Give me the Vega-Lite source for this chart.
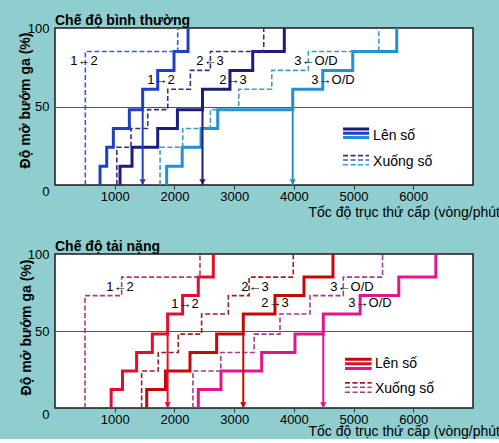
{
 "$schema": "https://vega.github.io/schema/vega-lite/v6.json",
 "background": "#8fcdce",
 "padding": {"left": 17, "top": 13, "right": 0, "bottom": 0},
 "spacing": 19,
 "config": {
   "font": "Liberation Sans",
   "view": {"stroke": "#1a1a1a", "strokeWidth": 1.5, "fill": "white"},
   "axis": {"labelFont": "Liberation Sans", "titleFont": "Liberation Sans"},
   "title": {"font": "Liberation Sans"}
 },
 "resolve": {"scale": {"color": "independent", "x": "independent", "y": "independent", "strokeDash": "independent", "strokeWidth": "independent"}},
 "datasets": {
  "topLines": [
   {"s":"U12","k":"up","i":0,"x":754,"y":0},{"s":"U12","k":"up","i":1,"x":866,"y":12},{"s":"U12","k":"up","i":2,"x":977,"y":24},{"s":"U12","k":"up","i":3,"x":1245,"y":36},{"s":"U12","k":"up","i":4,"x":1468,"y":48},{"s":"U12","k":"up","i":5,"x":1720,"y":61},{"s":"U12","k":"up","i":6,"x":1993,"y":73},{"s":"U12","k":"up","i":7,"x":2228,"y":85},{"s":"U12","k":"up","i":8,"x":2228,"y":100},
   {"s":"U23","k":"up","i":0,"x":1089,"y":0},{"s":"U23","k":"up","i":1,"x":1290,"y":12},{"s":"U23","k":"up","i":2,"x":1720,"y":24},{"s":"U23","k":"up","i":3,"x":2050,"y":36},{"s":"U23","k":"up","i":4,"x":2470,"y":48},{"s":"U23","k":"up","i":5,"x":2930,"y":61},{"s":"U23","k":"up","i":6,"x":3311,"y":73},{"s":"U23","k":"up","i":7,"x":3840,"y":85},{"s":"U23","k":"up","i":8,"x":3840,"y":100},
   {"s":"U3O","k":"up","i":0,"x":1870,"y":0},{"s":"U3O","k":"up","i":1,"x":2130,"y":12},{"s":"U3O","k":"up","i":2,"x":2446,"y":24},{"s":"U3O","k":"up","i":3,"x":2725,"y":36},{"s":"U3O","k":"up","i":4,"x":3981,"y":48},{"s":"U3O","k":"up","i":5,"x":4484,"y":61},{"s":"U3O","k":"up","i":6,"x":4986,"y":73},{"s":"U3O","k":"up","i":7,"x":5723,"y":85},{"s":"U3O","k":"up","i":8,"x":5723,"y":100},
   {"s":"D12","k":"down","i":0,"x":508,"y":0},{"s":"D12","k":"down","i":1,"x":2055,"y":85},{"s":"D12","k":"down","i":2,"x":2055,"y":100},
   {"s":"D23","k":"down","i":0,"x":1035,"y":0},{"s":"D23","k":"down","i":1,"x":1273,"y":24},{"s":"D23","k":"down","i":2,"x":1553,"y":36},{"s":"D23","k":"down","i":3,"x":1888,"y":48},{"s":"D23","k":"down","i":4,"x":2267,"y":61},{"s":"D23","k":"down","i":5,"x":2602,"y":73},{"s":"D23","k":"down","i":6,"x":3495,"y":85},{"s":"D23","k":"down","i":7,"x":3495,"y":100},
   {"s":"D3O","k":"down","i":0,"x":1759,"y":0},{"s":"D3O","k":"down","i":1,"x":2139,"y":24},{"s":"D3O","k":"down","i":2,"x":2602,"y":36},{"s":"D3O","k":"down","i":3,"x":3077,"y":48},{"s":"D3O","k":"down","i":4,"x":3630,"y":61},{"s":"D3O","k":"down","i":5,"x":4243,"y":73},{"s":"D3O","k":"down","i":6,"x":5422,"y":85},{"s":"D3O","k":"down","i":7,"x":5422,"y":100}
  ],
  "topArrows": [
   {"s":"U12","x":1468,"y":0,"y2":48},{"s":"U23","x":2470,"y":0,"y2":48},{"s":"U3O","x":3981,"y":0,"y2":48}
  ],
  "topLabels": [
   {"t":"1←2","x":486,"y":79},{"t":"1→2","x":1775,"y":67},{"t":"2←3","x":2596,"y":79},{"t":"2→3","x":2981,"y":67},{"t":"3←O/D","x":4371,"y":79},{"t":"3→O/D","x":4655,"y":67}
  ],
  "topLegLines": [
   {"s":"U23","k":"up","x":4824,"x2":5260,"y":35.7},{"s":"U12","k":"up","x":4824,"x2":5260,"y":32.9},{"s":"U3O","k":"up","x":4824,"x2":5260,"y":30.2},
   {"s":"D23","k":"down","x":4824,"x2":5260,"y":18.7},{"s":"D12","k":"down","x":4824,"x2":5260,"y":15.9},{"s":"D3O","k":"down","x":4824,"x2":5260,"y":12.9}
  ],
  "topLegText": [
   {"t":"Lên số","x":5327,"y":31.4},{"t":"Xuống số","x":5327,"y":14.6}
  ],
  "botLines": [
   {"s":"U12","k":"up","i":0,"x":940,"y":0},{"s":"U12","k":"up","i":1,"x":1130,"y":12},{"s":"U12","k":"up","i":2,"x":1367,"y":24},{"s":"U12","k":"up","i":3,"x":1630,"y":36},{"s":"U12","k":"up","i":4,"x":1886,"y":48},{"s":"U12","k":"up","i":5,"x":2137,"y":61},{"s":"U12","k":"up","i":6,"x":2399,"y":73},{"s":"U12","k":"up","i":7,"x":2651,"y":85},{"s":"U12","k":"up","i":8,"x":2651,"y":100},
   {"s":"U23","k":"up","i":0,"x":1536,"y":0},{"s":"U23","k":"up","i":1,"x":1850,"y":12},{"s":"U23","k":"up","i":2,"x":2261,"y":24},{"s":"U23","k":"up","i":3,"x":2707,"y":36},{"s":"U23","k":"up","i":4,"x":3153,"y":48},{"s":"U23","k":"up","i":5,"x":3684,"y":61},{"s":"U23","k":"up","i":6,"x":4170,"y":73},{"s":"U23","k":"up","i":7,"x":4655,"y":85},{"s":"U23","k":"up","i":8,"x":4655,"y":100},
   {"s":"U3O","k":"up","i":0,"x":2400,"y":0},{"s":"U3O","k":"up","i":1,"x":2780,"y":12},{"s":"U3O","k":"up","i":2,"x":3461,"y":24},{"s":"U3O","k":"up","i":3,"x":4019,"y":36},{"s":"U3O","k":"up","i":4,"x":4493,"y":48},{"s":"U3O","k":"up","i":5,"x":5110,"y":61},{"s":"U3O","k":"up","i":6,"x":5757,"y":73},{"s":"U3O","k":"up","i":7,"x":6378,"y":85},{"s":"U3O","k":"up","i":8,"x":6378,"y":100},
   {"s":"D12","k":"down","i":0,"x":502,"y":0},{"s":"D12","k":"down","i":1,"x":1116,"y":73},{"s":"D12","k":"down","i":2,"x":2428,"y":85},{"s":"D12","k":"down","i":3,"x":2428,"y":100},
   {"s":"D23","k":"down","i":0,"x":1451,"y":0},{"s":"D23","k":"down","i":1,"x":1729,"y":24},{"s":"D23","k":"down","i":2,"x":2064,"y":36},{"s":"D23","k":"down","i":3,"x":2455,"y":48},{"s":"D23","k":"down","i":4,"x":2903,"y":61},{"s":"D23","k":"down","i":5,"x":3250,"y":73},{"s":"D23","k":"down","i":6,"x":3990,"y":85},{"s":"D23","k":"down","i":7,"x":3990,"y":100},
   {"s":"D3O","k":"down","i":0,"x":2310,"y":0},{"s":"D3O","k":"down","i":1,"x":2777,"y":24},{"s":"D3O","k":"down","i":2,"x":3335,"y":36},{"s":"D3O","k":"down","i":3,"x":3768,"y":48},{"s":"D3O","k":"down","i":4,"x":4270,"y":61},{"s":"D3O","k":"down","i":5,"x":4828,"y":73},{"s":"D3O","k":"down","i":6,"x":5485,"y":85},{"s":"D3O","k":"down","i":7,"x":5485,"y":100}
  ],
  "botArrows": [
   {"s":"U12","x":1886,"y":0,"y2":48},{"s":"U23","x":3153,"y":0,"y2":48},{"s":"U3O","x":4493,"y":0,"y2":48}
  ],
  "botLabels": [
   {"t":"1←2","x":1088,"y":78.7},{"t":"1→2","x":2177,"y":67.8},{"t":"2←3","x":3349,"y":78.7},{"t":"2→3","x":3684,"y":68},{"t":"3←O/D","x":4974,"y":78.7},{"t":"3→O/D","x":5275,"y":68}
  ],
  "botLegLines": [
   {"s":"U23","k":"up","x":4856,"x2":5303,"y":31.6},{"s":"U12","k":"up","x":4856,"x2":5303,"y":28.7},{"s":"U3O","k":"up","x":4856,"x2":5303,"y":25.6},
   {"s":"D23","k":"down","x":4856,"x2":5303,"y":16.3},{"s":"D12","k":"down","x":4856,"x2":5303,"y":13.5},{"s":"D3O","k":"down","x":4856,"x2":5303,"y":10.2}
  ],
  "botLegText": [
   {"t":"Lên số","x":5358,"y":28.7},{"t":"Xuống số","x":5358,"y":12.4}
  ]
 },
 "vconcat": [
  {
   "width": 418, "height": 157,
   "title": {"text": "Chế độ bình thường", "anchor": "start", "frame": "group", "offset": -6, "fontSize": 14, "fontWeight": "bold", "color": "black"},
   "encoding": {
    "x": {"field": "x", "type": "quantitative", "scale": {"domain": [0, 7000], "nice": false, "zero": false},
      "axis": {"values": [1000,2000,3000,4000,5000,6000], "format": "d", "title": "Tốc độ trục thứ cấp (vòng/phút)", "grid": false, "domain": false, "ticks": true, "tickSize": 4, "tickColor": "#333", "labelFontSize": 13, "labelColor": "black", "labelPadding": 1, "labelFlush": false, "titleFontSize": 14, "titleFontWeight": "normal", "titleColor": "black", "titleX": 253, "titleY": 27, "titleAlign": "left", "titleBaseline": "middle"}},
    "y": {"field": "y", "type": "quantitative", "scale": {"domain": [0, 100], "nice": false},
      "axis": {"values": [0,50,100], "grid": true, "gridColor": "#555", "gridWidth": 1, "gridOpacity": {"condition": {"test": "datum.value == 50", "value": 1}, "value": 0}, "domain": false, "ticks": false, "labelFontSize": 13, "labelPadding": 6, "labelColor": "black", "labelFlush": false, "labelBaseline": {"condition": {"test": "datum.value == 0", "value": "top"}, "value": "middle"}, "title": "Độ mở bướm ga (%)", "titleFontSize": 14, "titleFontWeight": "bold", "titleColor": "black", "titleX": -23, "titleY": 72, "titleAngle": -90, "titleAlign": "center", "titleBaseline": "bottom"}}
   },
   "layer": [
    {"data": {"name": "topLines"}, "mark": {"type": "line", "interpolate": "step-before", "strokeJoin": "miter", "strokeCap": "butt"},
     "encoding": {
      "color": {"field": "s", "type": "nominal", "scale": {"domain": ["U12","U23","U3O","D12","D23","D3O"], "range": ["#1f3fc4","#1c1c7c","#2290d4","#3a5cc8","#3a2c84","#3a9cc4"]}, "legend": null},
      "strokeDash": {"field": "k", "type": "nominal", "scale": {"domain": ["up","down"], "range": [[1,0],[5,2.5]]}, "legend": null},
      "strokeWidth": {"field": "k", "type": "nominal", "scale": {"domain": ["up","down"], "range": [3,1.6]}, "legend": null},
      "order": {"field": "i", "type": "quantitative"}
     }},
    {"data": {"name": "topArrows"}, "mark": {"type": "rule", "strokeWidth": 2},
     "encoding": {"y2": {"field": "y2"}, "color": {"field": "s", "type": "nominal", "legend": null}}},
    {"data": {"name": "topArrows"}, "mark": {"type": "point", "shape": "triangle-down", "filled": true, "size": 40, "opacity": 1, "yOffset": -3},
     "encoding": {"color": {"field": "s", "type": "nominal", "legend": null}}},
    {"data": {"name": "topLabels"}, "mark": {"type": "text", "fontSize": 13, "color": "black", "align": "center", "baseline": "middle"},
     "encoding": {"text": {"field": "t"}}},
    {"data": {"name": "topLegLines"}, "mark": {"type": "rule"},
     "encoding": {"x2": {"field": "x2"}, "color": {"field": "s", "type": "nominal", "legend": null}, "strokeDash": {"field": "k", "type": "nominal", "legend": null}, "strokeWidth": {"field": "k", "type": "nominal", "legend": null}}},
    {"data": {"name": "topLegText"}, "mark": {"type": "text", "fontSize": 14, "color": "black", "align": "left", "baseline": "middle"},
     "encoding": {"text": {"field": "t"}}}
   ]
  },
  {
   "width": 418, "height": 154,
   "title": {"text": "Chế độ tải nặng", "anchor": "start", "frame": "group", "offset": -6, "fontSize": 14, "fontWeight": "bold", "color": "black"},
   "encoding": {
    "x": {"field": "x", "type": "quantitative", "scale": {"domain": [0, 7000], "nice": false, "zero": false},
      "axis": {"values": [1000,2000,3000,4000,5000,6000], "format": "d", "title": "Tốc độ trục thứ cấp (vòng/phút)", "grid": false, "domain": false, "ticks": true, "tickSize": 4, "tickColor": "#333", "labelFontSize": 13, "labelColor": "black", "labelPadding": 1, "labelFlush": false, "titleFontSize": 14, "titleFontWeight": "normal", "titleColor": "black", "titleX": 253, "titleY": 23, "titleAlign": "left", "titleBaseline": "middle"}},
    "y": {"field": "y", "type": "quantitative", "scale": {"domain": [0, 100], "nice": false},
      "axis": {"values": [0,50,100], "grid": true, "gridColor": "#555", "gridWidth": 1, "gridOpacity": {"condition": {"test": "datum.value == 50", "value": 1}, "value": 0}, "domain": false, "ticks": false, "labelFontSize": 13, "labelPadding": 6, "labelColor": "black", "labelFlush": false, "labelBaseline": {"condition": {"test": "datum.value == 0", "value": "top"}, "value": "middle"}, "title": "Độ mở bướm ga (%)", "titleFontSize": 14, "titleFontWeight": "bold", "titleColor": "black", "titleX": -22, "titleY": 73, "titleAngle": -90, "titleAlign": "center", "titleBaseline": "bottom"}}
   },
   "layer": [
    {"data": {"name": "botLines"}, "mark": {"type": "line", "interpolate": "step-before", "strokeJoin": "miter", "strokeCap": "butt"},
     "encoding": {
      "color": {"field": "s", "type": "nominal", "scale": {"domain": ["U12","U23","U3O","D12","D23","D3O"], "range": ["#e0102c","#c40808","#e2158a","#b03a78","#9a2020","#a83a90"]}, "legend": null},
      "strokeDash": {"field": "k", "type": "nominal", "scale": {"domain": ["up","down"], "range": [[1,0],[5,2.5]]}, "legend": null},
      "strokeWidth": {"field": "k", "type": "nominal", "scale": {"domain": ["up","down"], "range": [3,1.6]}, "legend": null},
      "order": {"field": "i", "type": "quantitative"}
     }},
    {"data": {"name": "botArrows"}, "mark": {"type": "rule", "strokeWidth": 2},
     "encoding": {"y2": {"field": "y2"}, "color": {"field": "s", "type": "nominal", "legend": null}}},
    {"data": {"name": "botArrows"}, "mark": {"type": "point", "shape": "triangle-down", "filled": true, "size": 40, "opacity": 1, "yOffset": -3},
     "encoding": {"color": {"field": "s", "type": "nominal", "legend": null}}},
    {"data": {"name": "botLabels"}, "mark": {"type": "text", "fontSize": 13, "color": "black", "align": "center", "baseline": "middle"},
     "encoding": {"text": {"field": "t"}}},
    {"data": {"name": "botLegLines"}, "mark": {"type": "rule"},
     "encoding": {"x2": {"field": "x2"}, "color": {"field": "s", "type": "nominal", "legend": null}, "strokeDash": {"field": "k", "type": "nominal", "legend": null}, "strokeWidth": {"field": "k", "type": "nominal", "legend": null}}},
    {"data": {"name": "botLegText"}, "mark": {"type": "text", "fontSize": 14, "color": "black", "align": "left", "baseline": "middle"},
     "encoding": {"text": {"field": "t"}}}
   ]
  }
 ]
}
